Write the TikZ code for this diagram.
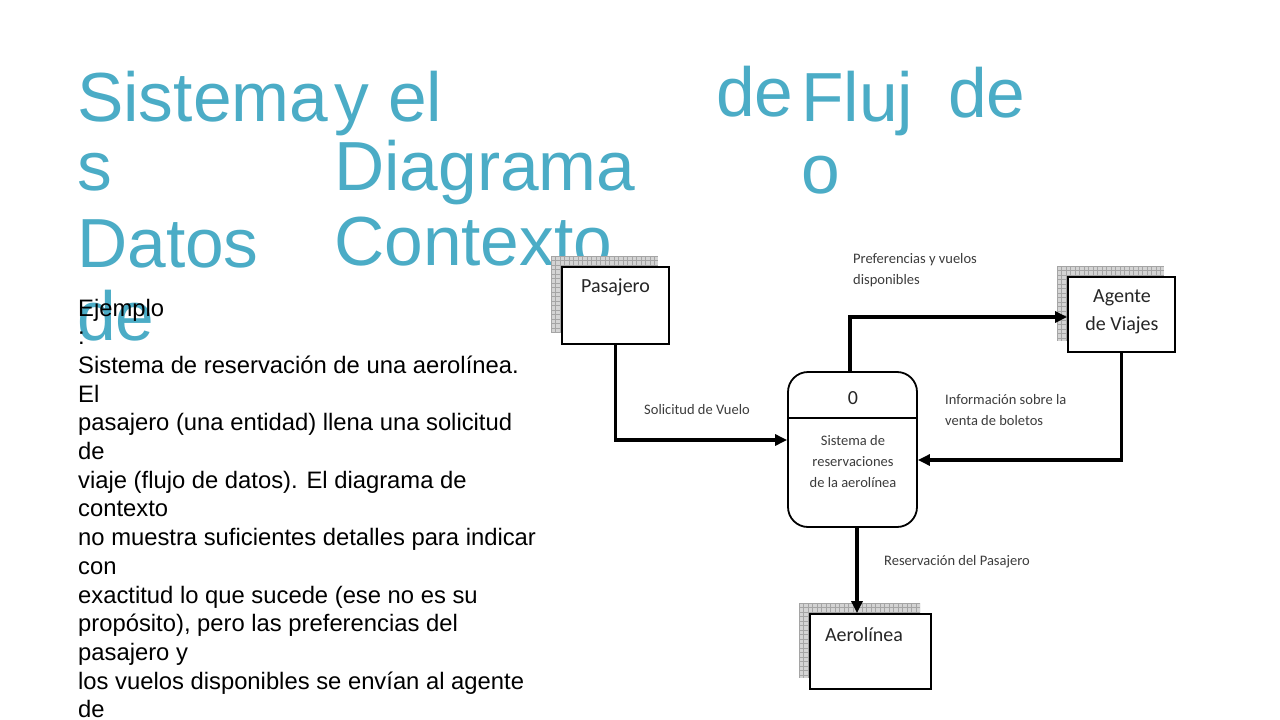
\documentclass[tikz,border=0pt]{standalone}
\usepackage{fontspec}
\setmainfont{Liberation Sans}
\newfontfamily\calib{Carlito}
\usetikzlibrary{arrows.meta}
\definecolor{titleteal}{RGB}{75,172,198}
\definecolor{labelgray}{RGB}{60,60,60}
\definecolor{shadefill}{RGB}{212,212,212}
\definecolor{shadeline}{RGB}{165,165,165}
\tikzset{
  titleword/.style={anchor=base west, inner sep=0pt, text=titleteal, font=\fontsize{69.5}{69}\selectfont},
  bodyline/.style={anchor=base west, inner sep=0pt, font=\fontsize{23.8}{28.7}\selectfont},
  entitybox/.style={draw=black, line width=1.8pt, fill=white, inner sep=0pt},
  procbox/.style={draw=black, line width=1.8pt, fill=white, rounded corners=20pt, minimum width=129pt, minimum height=155pt, inner sep=0pt},
  boxtext/.style={inner sep=0pt, align=center, font=\calib\fontsize{20}{28}\selectfont, text=black!85},
  proctext/.style={inner sep=0pt, align=center, font=\calib\fontsize{14.5}{21}\selectfont, text=labelgray},
  flowlabel/.style={inner sep=0pt, align=left, font=\calib\fontsize{14.5}{21}\selectfont, text=labelgray},
  flow/.style={draw=black, line width=3.2pt, -{Triangle[length=12pt,width=11pt]}},
}
\newcommand{\gridshadow}[4]{%
  \fill[shadefill] (#1,#2) rectangle (#3,#4);
  \begin{scope}
    \clip (#1,#2) rectangle (#3,#4);
    \foreach \k in {0,...,28}{
      \draw[shadeline, line width=0.6pt] (#1+\k*4.5,#2) -- (#1+\k*4.5,#4);
      \draw[shadeline, line width=0.6pt] (#1,#2+\k*4.5) -- (#3,#2+\k*4.5);
    }
  \end{scope}}
\begin{document}
\begin{tikzpicture}[x=1pt,y=-1pt]
\useasboundingbox (0,0) rectangle (1280,720);
\fill[white] (0,0) rectangle (1280,720);

% title words
\node[titleword] (t1) at (77,121) {Sistema};
\node[titleword] (t2) at (77,190) {s};
\node[titleword] (t3) at (77,267) {Datos};
\node[titleword] (t4) at (77,340) {de};
\node[titleword] (t5) at (334,121) {y el};
\node[titleword] (t6) at (334,190) {Diagrama};
\node[titleword] (t7) at (334,265) {Contexto};
\node[titleword] (t8) at (716,116) {de};
\node[titleword] (t9) at (801,121) {Fluj};
\node[titleword] (t10) at (801,193) {o};
\node[titleword] (t11) at (948,117) {de};

% body text
\foreach \t [count=\i from 0] in {{Ejemplo},{:},{Sistema de reservación de una aerolínea.},{El},{pasajero (una entidad) llena una solicitud},{de},{viaje (flujo de datos). El diagrama de},{contexto},{no muestra suficientes detalles para indicar},{con},{exactitud lo que sucede (ese no es su},{propósito), pero las preferencias del},{pasajero y},{los vuelos disponibles se envían al agente},{de}}{
  \node[bodyline] (body\i) at (78,316+\i*28.7) {\t};
}

% shadows
\gridshadow{551}{256}{658}{333}
\gridshadow{1057}{266}{1164}{341}
\gridshadow{799}{603}{920}{678}

% entity boxes
\node[entitybox, minimum width=107pt, minimum height=77pt] (pas) at (615.5,305.5) {};
\node[boxtext] (pasT) at (615.5,287) {Pasajero};
\node[entitybox, minimum width=107pt, minimum height=75pt] (agt) at (1121.5,314.5) {};
\node[boxtext] (agtT) at (1122,312) {Agente\\de Viajes};
\node[entitybox, minimum width=121pt, minimum height=75pt] (aer) at (870.5,651.5) {};
\node[boxtext] (aerT) at (864,635) {Aerolínea};

% process
\node[procbox] (proc) at (852.5,449.5) {};
\draw[line width=1.8pt] (proc.west |- 0,418) -- (proc.east |- 0,418);
\node[boxtext] (procN) at (853,398) {0};
\node[proctext] (procT) at (853,462) {Sistema de\\reservaciones\\de la aerolínea};

% flows
\draw[flow] (pas.south) |- (proc.west |- 0,440);
\draw[flow] ([xshift=-2.5pt]proc.north) |- (agt.west |- 0,317);
\draw[flow] (agt.south) |- (proc.east |- 0,460);
\draw[flow] ([xshift=4.5pt]proc.south) -- ([xshift=4.5pt]proc.south |- aer.north);

% flow labels
\node[flowlabel, anchor=center] (l1) at (697,410) {Solicitud de Vuelo};
\node[flowlabel, anchor=west] (l2) at (853,270.5) {Preferencias y vuelos\\disponibles};
\node[flowlabel, anchor=west] (l3) at (945,410.5) {Información sobre la\\venta de boletos};
\node[flowlabel, anchor=west] (l4) at (884,562) {Reservación del Pasajero};
\end{tikzpicture}
\end{document}
